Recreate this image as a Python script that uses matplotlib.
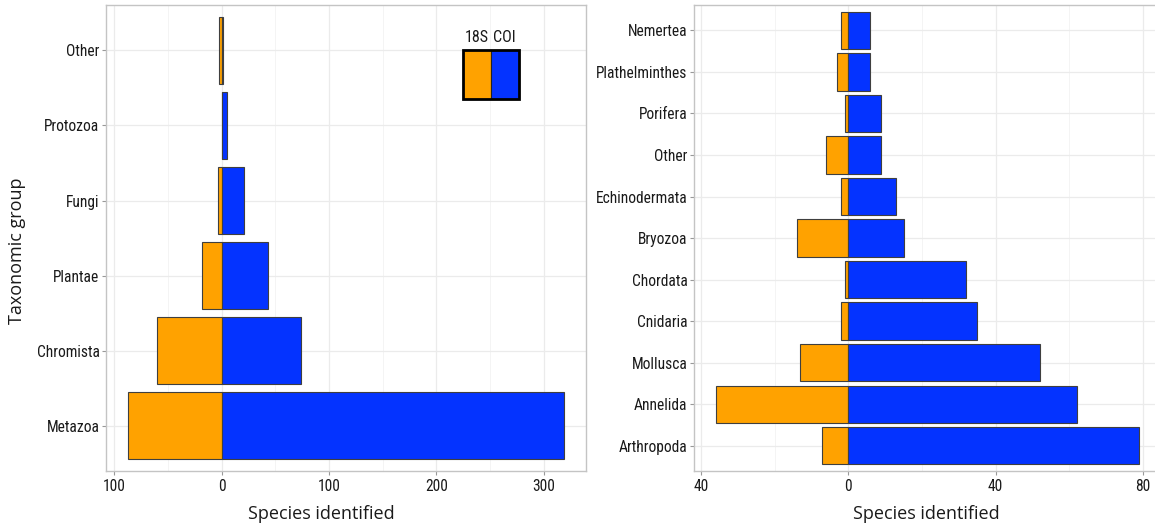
import numpy as np
import matplotlib
matplotlib.use("Agg")
import matplotlib.pyplot as plt
from matplotlib.patches import Rectangle
from matplotlib.ticker import FixedLocator, FuncFormatter

# left panel: kingdoms
kingdoms = ["Metazoa", "Chromista", "Plantae", "Fungi", "Protozoa", "Other"]
k_18s = [87, 60, 18, 3, 0, 2]
k_coi = [319, 74, 43, 21, 5, 1]

# right panel: animal phyla
phyla = ["Arthropoda", "Annelida", "Mollusca", "Cnidaria", "Chordata", "Bryozoa",
         "Echinodermata", "Other", "Porifera", "Plathelminthes", "Nemertea"]
p_18s = [7, 36, 13, 2, 1, 14, 2, 6, 1, 3, 2]
p_coi = [79, 62, 52, 35, 32, 15, 13, 9, 9, 6, 6]

ORANGE = "#FFA200"
BLUE = "#0433FF"
EDGE = "#3f3f3f"
TICK_FONT = ["Roboto Condensed", "Liberation Sans"]

fig = plt.figure(figsize=(11.55, 5.31), dpi=100)
ax1 = fig.add_axes([0.0922, 0.1135, 0.4149, 0.8763])
ax2 = fig.add_axes([0.6012, 0.1135, 0.4036, 0.8763])


def draw_panel(ax, cats, s18, coi, major, minor, xlim):
    y = np.arange(len(cats))
    ax.barh(y, -np.asarray(s18), height=0.9, color=ORANGE, edgecolor=EDGE,
            linewidth=0.8, zorder=3)
    ax.barh(y, coi, height=0.9, color=BLUE, edgecolor=EDGE, linewidth=0.8, zorder=3)
    ax.set_xlim(*xlim)
    ax.set_ylim(-0.6, len(cats) - 0.4)
    ax.set_yticks(y)
    ax.set_yticklabels(cats)
    ax.xaxis.set_major_locator(FixedLocator(major))
    ax.xaxis.set_minor_locator(FixedLocator(minor))
    ax.xaxis.set_major_formatter(FuncFormatter(lambda v, p: f"{abs(v):g}"))
    ax.grid(True, which="major", color="#ebebeb", linewidth=0.9, zorder=0)
    ax.grid(True, which="minor", axis="x", color="#f3f3f3", linewidth=0.6, zorder=0)
    ax.set_axisbelow(True)
    for sp in ax.spines.values():
        sp.set_color("#c4c4c4")
        sp.set_linewidth(1.0)
    ax.tick_params(axis="both", which="major", length=3, width=0.8, color="#999999",
                   labelsize=11.2, labelcolor="#1a1a1a", pad=2)
    ax.tick_params(axis="x", which="major", pad=3)
    ax.tick_params(axis="x", which="minor", length=0)
    for lab in ax.get_xticklabels() + ax.get_yticklabels():
        lab.set_family(TICK_FONT)


draw_panel(ax1, kingdoms, k_18s, k_coi, [-100, 0, 100, 200, 300],
           [-50, 50, 150, 250], (-107.3, 339.3))
draw_panel(ax2, phyla, p_18s, p_coi, [-40, 0, 40, 80], [-20, 20, 60], (-41.75, 84.75))

# legend drawn as two joined boxes
lx, ly, lw, lh = 0.743, 0.799, 0.0585, 0.105
ax1.add_patch(Rectangle((lx, ly), lw, lh, transform=ax1.transAxes, facecolor=ORANGE,
                        edgecolor="#222222", linewidth=0.8, zorder=5))
ax1.add_patch(Rectangle((lx + lw, ly), lw, lh, transform=ax1.transAxes, facecolor=BLUE,
                        edgecolor="#222222", linewidth=0.8, zorder=5))
ax1.add_patch(Rectangle((lx, ly), 2 * lw, lh, transform=ax1.transAxes, fill=False,
                        edgecolor="black", linewidth=2.0, zorder=6))
ax1.text(lx + lw * 0.5, ly + lh + 0.028, "18S", transform=ax1.transAxes, ha="center",
         va="center", fontsize=11.5, family=TICK_FONT, color="#1a1a1a")
ax1.text(lx + lw * 1.5, ly + lh + 0.028, "COI", transform=ax1.transAxes, ha="center",
         va="center", fontsize=11.5, family=TICK_FONT, color="#1a1a1a")

fig.text(0.0147, 0.527, "Taxonomic group", rotation=90, ha="center", va="center",
         fontsize=13, family=["Open Sans"], color="#1a1a1a")
fig.text(0.278, 0.032, "Species identified", ha="center", va="center",
         fontsize=13, family=["Open Sans"], color="#1a1a1a")
fig.text(0.802, 0.032, "Species identified", ha="center", va="center",
         fontsize=13, family=["Open Sans"], color="#1a1a1a")

fig.savefig("out.png", dpi=100)
